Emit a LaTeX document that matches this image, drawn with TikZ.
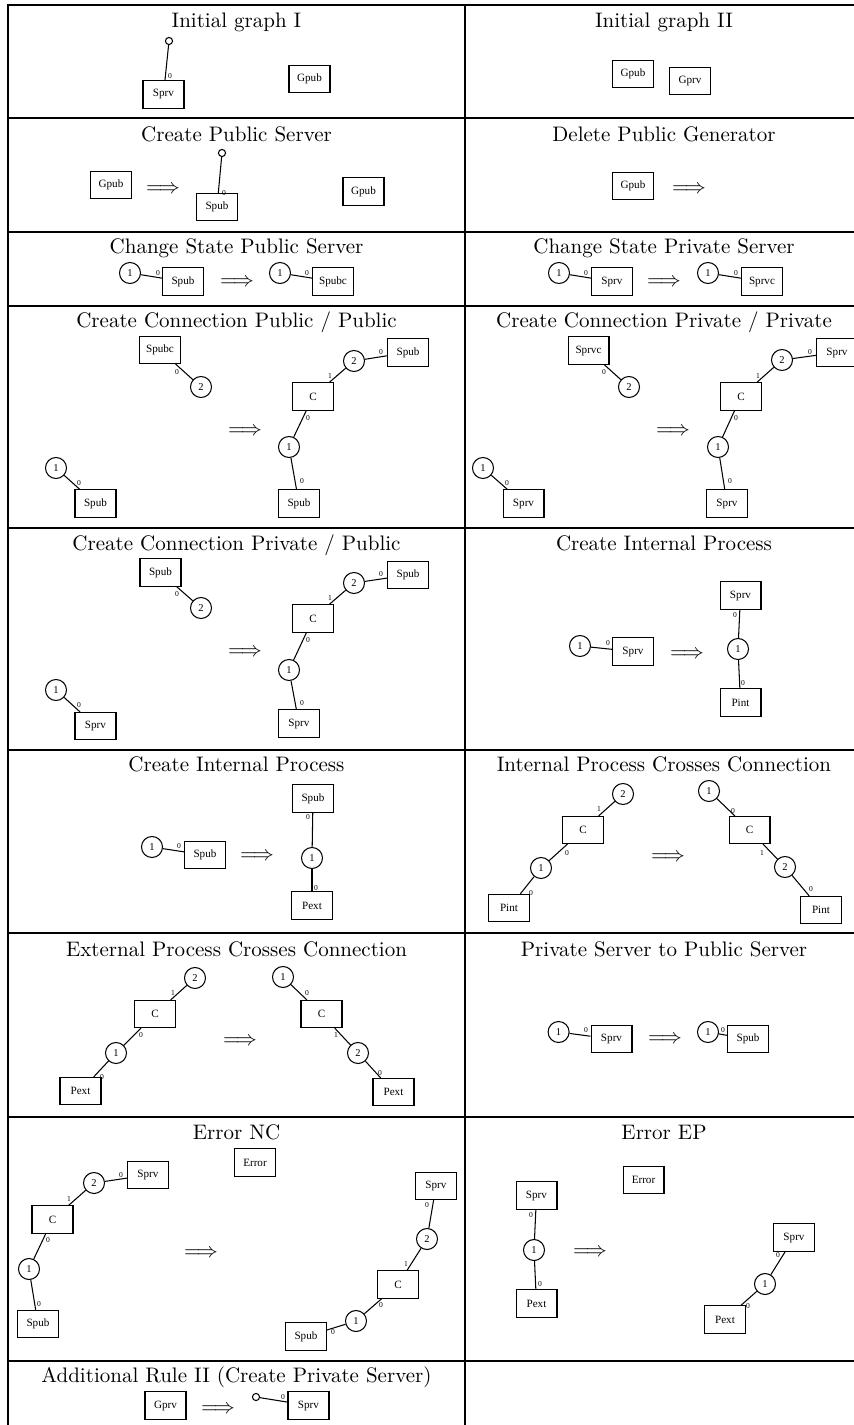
\documentclass[tikz,border=0pt]{standalone}
\usepackage{fontspec}
\newfontfamily\graphfont{Liberation Serif}
\tikzset{
  box/.style={rectangle,draw,line width=.5pt,minimum width=19.5pt,minimum height=12.9pt,inner sep=0pt,font=\graphfont\fontsize{5.3}{6}\selectfont},
  port/.style={circle,draw,line width=.5pt,minimum size=10pt,inner sep=0pt,font=\graphfont\fontsize{5}{6}\selectfont},
  stub/.style={circle,draw,line width=.5pt,minimum size=3.4pt,inner sep=0pt},
  lbl/.style={inner sep=0pt,font=\graphfont\fontsize{3.6}{4}\selectfont},
  hdr/.style={inner sep=0pt,anchor=base},
  imp/.style={inner sep=0pt},
  rule/.style={line width=1.1pt},
}

\begin{document}
\begin{tikzpicture}[x=0.476pt,y=-0.476pt,line width=.5pt]
  \useasboundingbox (0,0) rectangle (854,1425);
  % table
  \draw[rule] (8,1425) -- (8,5) -- (860,5);
  \draw[rule] (465,5) -- (465,1425);
  \foreach \yy in {118,232,306,528,750,933,1117,1361}
    \draw[rule] (8,\yy) -- (860,\yy);

  % titles
  \draw(236.5,28) node[hdr] (t1) {Initial graph I};
  \draw(664,28) node[hdr] (t2) {Initial graph II};
  \draw(236.5,142) node[hdr] (t3) {Create Public Server};
  \draw(664,142) node[hdr] (t4) {Delete Public Generator};
  \draw(236.5,254) node[hdr] (t5) {Change State Public Server};
  \draw(664,254) node[hdr] (t6) {Change State Private Server};
  \draw(236.5,328) node[hdr] (t7) {Create Connection Public / Public};
  \draw(664,328) node[hdr] (t8) {Create Connection Private / Private};
  \draw(236.5,550) node[hdr] (t9) {Create Connection Private / Public};
  \draw(664,550) node[hdr] (t10) {Create Internal Process};
  \draw(236.5,771) node[hdr] (t11) {Create Internal Process};
  \draw(664,771) node[hdr] (t12) {Internal Process Crosses Connection};
  \draw(236.5,956) node[hdr] (t13) {External Process Crosses Connection};
  \draw(664,956) node[hdr] (t14) {Private Server to Public Server};
  \draw(236.5,1139) node[hdr] (t15) {Error NC};
  \draw(664,1139) node[hdr] (t16) {Error EP};
  \draw(236.5,1382) node[hdr] (t17) {Additional Rule II (Create Private Server)};

  % initial graph I
  \draw(169,41) node[stub] (a1) {};
  \draw(163.5,94.5) node[box] (a2) {Sprv};
  \draw(309.5,79) node[box] (a3) {Gpub};
  \draw (a1) -- (a2) node[lbl] at (170,76) {0};

  % initial graph II
  \draw(633,74) node[box] (b1) {Gpub};
  \draw(690,81) node[box] (b2) {Gprv};

  % create public server
  \draw(111,185) node[box] (c1) {Gpub};
  \draw(163,190) node[imp] (c2) {$\Longrightarrow$};
  \draw(222,153) node[stub] (c3) {};
  \draw(217,207) node[box] (c4) {Spub};
  \draw(363.5,191.5) node[box] (c5) {Gpub};
  \draw (c3) -- (c4) node[lbl] at (224,193) {0};

  % delete public generator
  \draw(633,186) node[box] (d1) {Gpub};
  \draw(689,190) node[imp] (d2) {$\Longrightarrow$};

  % change state public server
  \draw(130,273) node[port] (e1) {1};
  \draw(183,281.5) node[box] (e2) {Spub};
  \draw(237,283) node[imp] (e3) {$\Longrightarrow$};
  \draw(280,273) node[port] (e4) {1};
  \draw(333,281.5) node[box] (e5) {Spubc};
  \draw (e1) -- (e2) node[lbl] at (158,273) {0};
  \draw (e4) -- (e5) node[lbl] at (307,273) {0};

  % change state private server
  \draw(559,273) node[port] (f1) {1};
  \draw(612,281.5) node[box] (f2) {Sprv};
  \draw(664,283) node[imp] (f3) {$\Longrightarrow$};
  \draw(708,273) node[port] (f4) {1};
  \draw(762,281.5) node[box] (f5) {Sprvc};
  \draw (f1) -- (f2) node[lbl] at (586,273) {0};
  \draw (f4) -- (f5) node[lbl] at (736,273) {0};

  % connection public / public
  \draw(160,350) node[box] (g1) {Spubc};
  \draw(201,387) node[port] (g2) {2};
  \draw(56,468) node[port] (g3) {1};
  \draw(95.5,503.5) node[box] (g4) {Spub};
  \draw(245,432) node[imp] (g5) {$\Longrightarrow$};
  \draw(313,396.5) node[box] (g6) {C};
  \draw(354,361) node[port] (g7) {2};
  \draw(408,352.5) node[box] (g8) {Spub};
  \draw(289,447) node[port] (g9) {1};
  \draw(299,503.5) node[box] (g10) {Spub};
  \draw (g1) -- (g2) node[lbl] at (177,372) {0};
  \draw (g3) -- (g4) node[lbl] at (79,483) {0};
  \draw (g6) -- (g7) node[lbl] at (330,376) {1};
  \draw (g7) -- (g8) node[lbl] at (381,352) {0};
  \draw (g6) -- (g9) node[lbl] at (308,418) {0};
  \draw (g9) -- (g10) node[lbl] at (302,481) {0};

  % connection private / private
  \draw(588.5,350.5) node[box] (h1) {Sprvc};
  \draw(629,387) node[port] (h2) {2};
  \draw(483,468) node[port] (h3) {1};
  \draw(523.5,503.5) node[box] (h4) {Sprv};
  \draw(673,432) node[imp] (h5) {$\Longrightarrow$};
  \draw(741,396.5) node[box] (h6) {C};
  \draw(782,360) node[port] (h7) {2};
  \draw(837,352.5) node[box] (h8) {Sprv};
  \draw(718,447) node[port] (h9) {1};
  \draw(727,503.5) node[box] (h10) {Sprv};
  \draw (h1) -- (h2) node[lbl] at (604,372) {0};
  \draw (h3) -- (h4) node[lbl] at (507,483) {0};
  \draw (h6) -- (h7) node[lbl] at (758,376) {1};
  \draw (h7) -- (h8) node[lbl] at (810,352) {0};
  \draw (h6) -- (h9) node[lbl] at (736,418) {0};
  \draw (h9) -- (h10) node[lbl] at (730,481) {0};

  % connection private / public
  \draw(160.5,572.5) node[box] (i1) {Spub};
  \draw(201,608) node[port] (i2) {2};
  \draw(56,690) node[port] (i3) {1};
  \draw(95.5,726) node[box] (i4) {Sprv};
  \draw(245,653) node[imp] (i5) {$\Longrightarrow$};
  \draw(313,618.5) node[box] (i6) {C};
  \draw(354,583) node[port] (i7) {2};
  \draw(408,575) node[box] (i8) {Spub};
  \draw(289,670) node[port] (i9) {1};
  \draw(299,723.5) node[box] (i10) {Sprv};
  \draw (i1) -- (i2) node[lbl] at (177,594) {0};
  \draw (i3) -- (i4) node[lbl] at (79,705) {0};
  \draw (i6) -- (i7) node[lbl] at (330,598) {1};
  \draw (i7) -- (i8) node[lbl] at (381,574) {0};
  \draw (i6) -- (i9) node[lbl] at (308,640) {0};
  \draw (i9) -- (i10) node[lbl] at (302,703) {0};

  % internal process (private)
  \draw(580,646) node[port] (j1) {1};
  \draw(633,651.5) node[box] (j2) {Sprv};
  \draw(687,655) node[imp] (j3) {$\Longrightarrow$};
  \draw(740.5,595.5) node[box] (j4) {Sprv};
  \draw(738,649) node[port] (j5) {1};
  \draw(740.5,702.5) node[box] (j6) {Pint};
  \draw (j1) -- (j2) node[lbl] at (608,643) {0};
  \draw (j4) -- (j5) node[lbl] at (735,615) {0};
  \draw (j5) -- (j6) node[lbl] at (743,683) {0};

  % internal process (public)
  \draw(152,847) node[port] (k1) {1};
  \draw(205,855) node[box] (k2) {Spub};
  \draw(257,857) node[imp] (k3) {$\Longrightarrow$};
  \draw(313,798.5) node[box] (k4) {Spub};
  \draw(312,858) node[port] (k5) {1};
  \draw(312,905.5) node[box] (k6) {Pext};
  \draw (k1) -- (k2) node[lbl] at (179,846) {0};
  \draw (k4) -- (k5) node[lbl] at (308,817) {0};
  \draw (k5) -- (k6) node[lbl] at (316,888) {0};

  % internal process crosses connection
  \draw(623,794) node[port] (l1) {2};
  \draw(583,830) node[box] (l2) {C};
  \draw(541,868) node[port] (l3) {1};
  \draw(509,908) node[box] (l4) {Pint};
  \draw(668,858) node[imp] (l5) {$\Longrightarrow$};
  \draw(709,791) node[port] (l6) {1};
  \draw(749.5,830) node[box] (l7) {C};
  \draw(785,867) node[port] (l8) {2};
  \draw(821,910) node[box] (l9) {Pint};
  \draw (l2) -- (l1) node[lbl] at (599,809) {1};
  \draw (l2) -- (l3) node[lbl] at (567,853) {0};
  \draw (l3) -- (l4) node[lbl] at (531,893) {0};
  \draw (l6) -- (l7) node[lbl] at (733,811) {0};
  \draw (l7) -- (l8) node[lbl] at (762,853) {1};
  \draw (l8) -- (l9) node[lbl] at (811,889) {0};

  % external process crosses connection
  \draw(195,978) node[port] (m1) {2};
  \draw(155,1014) node[box] (m2) {C};
  \draw(116,1053) node[port] (m3) {1};
  \draw(80.5,1091) node[box] (m4) {Pext};
  \draw(240,1042) node[imp] (m5) {$\Longrightarrow$};
  \draw(283,977) node[port] (m6) {1};
  \draw(321.5,1014) node[box] (m7) {C};
  \draw(358,1053) node[port] (m8) {2};
  \draw(393.5,1092) node[box] (m9) {Pext};
  \draw (m2) -- (m1) node[lbl] at (173,993) {1};
  \draw (m2) -- (m3) node[lbl] at (141,1035) {0};
  \draw (m3) -- (m4) node[lbl] at (102,1077) {0};
  \draw (m6) -- (m7) node[lbl] at (307,993) {0};
  \draw (m7) -- (m8) node[lbl] at (336,1035) {1};
  \draw (m8) -- (m9) node[lbl] at (380,1073) {0};

  % private server to public server
  \draw(558.6,1032) node[port] (n1) {1};
  \draw(611.5,1039) node[box] (n2) {Sprv};
  \draw(665,1040) node[imp] (n3) {$\Longrightarrow$};
  \draw(708,1032) node[port] (n4) {1};
  \draw(748,1039) node[box] (n5) {Spub};
  \draw (n1) -- (n2) node[lbl] at (586,1030) {0};
  \draw (n4) -- (n5) node[lbl] at (723,1030) {0};

  % error NC
  \draw(255,1162.5) node[box] (o1) {Error};
  \draw(148,1175) node[box] (o2) {Sprv};
  \draw(94,1183) node[port] (o3) {2};
  \draw(52.5,1219.5) node[box] (o4) {C};
  \draw(29,1269) node[port] (o5) {1};
  \draw(38,1324) node[box] (o6) {Spub};
  \draw(201,1254) node[imp] (o7) {$\Longrightarrow$};
  \draw(436,1186) node[box] (o8) {Sprv};
  \draw(427,1239) node[port] (o9) {2};
  \draw(398,1284.5) node[box] (o10) {C};
  \draw(356,1321) node[port] (o11) {1};
  \draw(306,1336.5) node[box] (o12) {Spub};
  \draw (o3) -- (o2) node[lbl] at (121,1175) {0};
  \draw (o4) -- (o3) node[lbl] at (69,1199) {1};
  \draw (o4) -- (o5) node[lbl] at (48,1240) {0};
  \draw (o5) -- (o6) node[lbl] at (39,1304) {0};
  \draw (o8) -- (o9) node[lbl] at (427,1205) {0};
  \draw (o10) -- (o9) node[lbl] at (406,1264) {1};
  \draw (o10) -- (o11) node[lbl] at (381,1305) {0};
  \draw (o11) -- (o12) node[lbl] at (333,1332) {0};

  % error EP
  \draw(643.5,1180) node[box] (p1) {Error};
  \draw(536.5,1195.5) node[box] (p2) {Sprv};
  \draw(534,1250) node[port] (p3) {1};
  \draw(536.5,1303.5) node[box] (p4) {Pext};
  \draw(590,1253) node[imp] (p5) {$\Longrightarrow$};
  \draw(794,1237.5) node[box] (p6) {Sprv};
  \draw(765,1284) node[port] (p7) {1};
  \draw(725,1319.5) node[box] (p8) {Pext};
  \draw (p2) -- (p3) node[lbl] at (531,1215) {0};
  \draw (p3) -- (p4) node[lbl] at (540,1284) {0};
  \draw (p6) -- (p7) node[lbl] at (778,1255) {0};
  \draw (p7) -- (p8) node[lbl] at (748,1306) {0};

  % create private server
  \draw(165.5,1405.5) node[box] (q1) {Gprv};
  \draw(218,1410) node[imp] (q2) {$\Longrightarrow$};
  \draw(256,1397) node[stub] (q3) {};
  \draw(308.5,1405.5) node[box] (q4) {Sprv};
  \draw (q3) -- (q4) node[lbl] at (283,1397) {0};
\end{tikzpicture}
\end{document}
